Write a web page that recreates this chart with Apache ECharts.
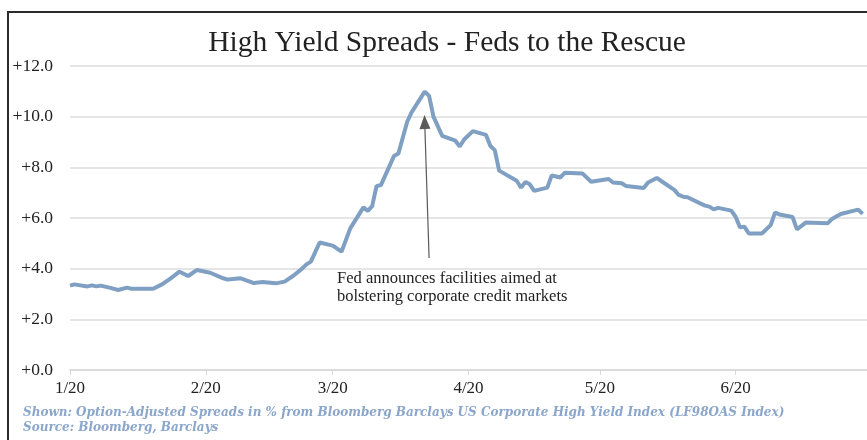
<!DOCTYPE html>
<html>
<head>
<meta charset="utf-8">
<script src="https://cdn.jsdelivr.net/npm/echarts@6/dist/echarts.min.js"></script>
<style>
  html, body { margin: 0; padding: 0; background: #fff; }
  #chart { width: 867px; height: 440px; }
</style>
</head>
<body>
<div id="chart"></div>
<script>
// high yield OAS
var dates = [
  '2020-01-01', '2020-01-02', '2020-01-05', '2020-01-06', '2020-01-07', '2020-01-08',
  '2020-01-10', '2020-01-12', '2020-01-14', '2020-01-15', '2020-01-20', '2020-01-22',
  '2020-01-24', '2020-01-26', '2020-01-28', '2020-01-30', '2020-02-02', '2020-02-05',
  '2020-02-06', '2020-02-09', '2020-02-12', '2020-02-14', '2020-02-17', '2020-02-19',
  '2020-02-21', '2020-02-23', '2020-02-24', '2020-02-25', '2020-02-27', '2020-03-01',
  '2020-03-03', '2020-03-05', '2020-03-08', '2020-03-09', '2020-03-10', '2020-03-11',
  '2020-03-12', '2020-03-15', '2020-03-16', '2020-03-18', '2020-03-19', '2020-03-22',
  '2020-03-23', '2020-03-24', '2020-03-26', '2020-03-29', '2020-03-30', '2020-03-31',
  '2020-04-02', '2020-04-05', '2020-04-06', '2020-04-07', '2020-04-08', '2020-04-12',
  '2020-04-13', '2020-04-14', '2020-04-15', '2020-04-16', '2020-04-19', '2020-04-20',
  '2020-04-22', '2020-04-23', '2020-04-27', '2020-04-29', '2020-05-03', '2020-05-04',
  '2020-05-06', '2020-05-07', '2020-05-11', '2020-05-12', '2020-05-14', '2020-05-15',
  '2020-05-18', '2020-05-19', '2020-05-20', '2020-05-21', '2020-05-25', '2020-05-26',
  '2020-05-27', '2020-05-28', '2020-05-31', '2020-06-01', '2020-06-02', '2020-06-03',
  '2020-06-04', '2020-06-07', '2020-06-09', '2020-06-10', '2020-06-11', '2020-06-14',
  '2020-06-15', '2020-06-17', '2020-06-22', '2020-06-23', '2020-06-25', '2020-06-29',
  '2020-06-30'
];
var spreads = [
  3.33, 3.38, 3.30, 3.34, 3.30, 3.33,
  3.25, 3.16, 3.25, 3.21, 3.21, 3.38,
  3.62, 3.88, 3.71, 3.95, 3.84, 3.62,
  3.57, 3.62, 3.43, 3.47, 3.42, 3.49,
  3.72, 4.00, 4.17, 4.28, 5.03, 4.91,
  4.67, 5.59, 6.42, 6.28, 6.47, 7.26,
  7.30, 8.45, 8.55, 9.80, 10.17, 10.99,
  10.82, 10.00, 9.24, 9.05, 8.82, 9.10,
  9.43, 9.28, 8.84, 8.68, 7.87, 7.47,
  7.20, 7.42, 7.33, 7.07, 7.20, 7.68,
  7.60, 7.79, 7.76, 7.43, 7.54, 7.40,
  7.37, 7.26, 7.18, 7.40, 7.58, 7.46,
  7.11, 6.91, 6.84, 6.82, 6.49, 6.45,
  6.34, 6.40, 6.29, 6.05, 5.63, 5.66,
  5.39, 5.39, 5.72, 6.21, 6.14, 6.04,
  5.55, 5.82, 5.79, 5.96, 6.16, 6.33,
  6.16
];
var yTicks = [0, 2, 4, 6, 8, 10, 12];

// arrow from the note up to the peak
var arrowFrom = ['2020-03-23', 4.42];
var arrowTo = ['2020-03-22', 9.79];
var noteLines = ['Fed announces facilities aimed at', 'bolstering corporate credit markets'];
var footLines = [
  'Shown: Option-Adjusted Spreads in % from Bloomberg Barclays US Corporate High Yield Index (LF98OAS Index)',
  'Source: Bloomberg, Barclays'
];

var serif = '"Liberation Serif", "DejaVu Serif", serif';

var chart = echarts.init(document.getElementById('chart'));

var option = {
  backgroundColor: '#fff',
  animation: false,
  title: {
    text: 'High Yield Spreads - Feds to the Rescue',
    left: 442,
    textAlign: 'center',
    top: 23,
    textStyle: { fontFamily: serif, fontSize: 29.5, fontWeight: 'normal', color: '#222' }
  },
  grid: { left: 70, right: -2, top: 66, bottom: 70 },
  xAxis: {
    type: 'time',
    min: '2020-01-01',
    max: '2020-07-01',
    minInterval: 28 * 86400000,
    maxInterval: 31 * 86400000,
    axisLine: { show: true, lineStyle: { color: '#d9d9d9', width: 1.5 } },
    axisTick: { show: true, length: 5, lineStyle: { color: '#d9d9d9' } },
    splitLine: { show: false },
    axisLabel: {
      showMaxLabel: false,
      margin: 10,
      fontFamily: serif,
      fontSize: 17,
      color: '#222',
      formatter: function (v) {
        var d = new Date(v);
        return (d.getMonth() + 1) + '/' + String(d.getFullYear()).slice(2);
      }
    }
  },
  yAxis: {
    type: 'value',
    min: yTicks[0],
    max: yTicks[yTicks.length - 1],
    interval: 2,
    axisLine: { show: false },
    axisTick: { show: false },
    splitLine: { lineStyle: { color: '#dcdcdc', width: 1.5 } },
    axisLabel: {
      margin: 17,
      fontFamily: serif,
      fontSize: 17.5,
      color: '#222',
      formatter: function (v) { return '+' + v.toFixed(1); }
    }
  },
  series: [
    {
      type: 'line',
      data: dates.map(function (d, i) { return [d, spreads[i]]; }),
      showSymbol: false,
      lineStyle: { color: '#7f9fc3', width: 4 },
      markLine: {
        silent: true,
        symbol: ['none', 'triangle'],
        symbolSize: [11, 14],
        label: { show: false },
        lineStyle: { color: '#5a5a5a', width: 1.2, type: 'solid' },
        data: [[{ coord: arrowFrom }, { coord: arrowTo }]]
      }
    }
  ],
  graphic: [
    {
      type: 'rect',
      shape: { x: 8, y: 12, width: 880, height: 460 },
      style: { fill: 'none', stroke: '#2a2a2a', lineWidth: 2 }
    },
    {
      type: 'text',
      left: 337,
      top: 270,
      style: {
        text: noteLines.join('\n'),
        font: '16.5px ' + serif,
        fill: '#222',
        lineHeight: 18
      }
    },
    {
      type: 'text',
      left: 23,
      top: 405,
      style: {
        text: footLines.join('\n'),
        font: 'italic bold 12px "DejaVu Serif", serif',
        fill: '#8aa6cb',
        lineHeight: 15.5
      }
    }
  ]
};

option && chart.setOption(option);
</script>
</body>
</html>
